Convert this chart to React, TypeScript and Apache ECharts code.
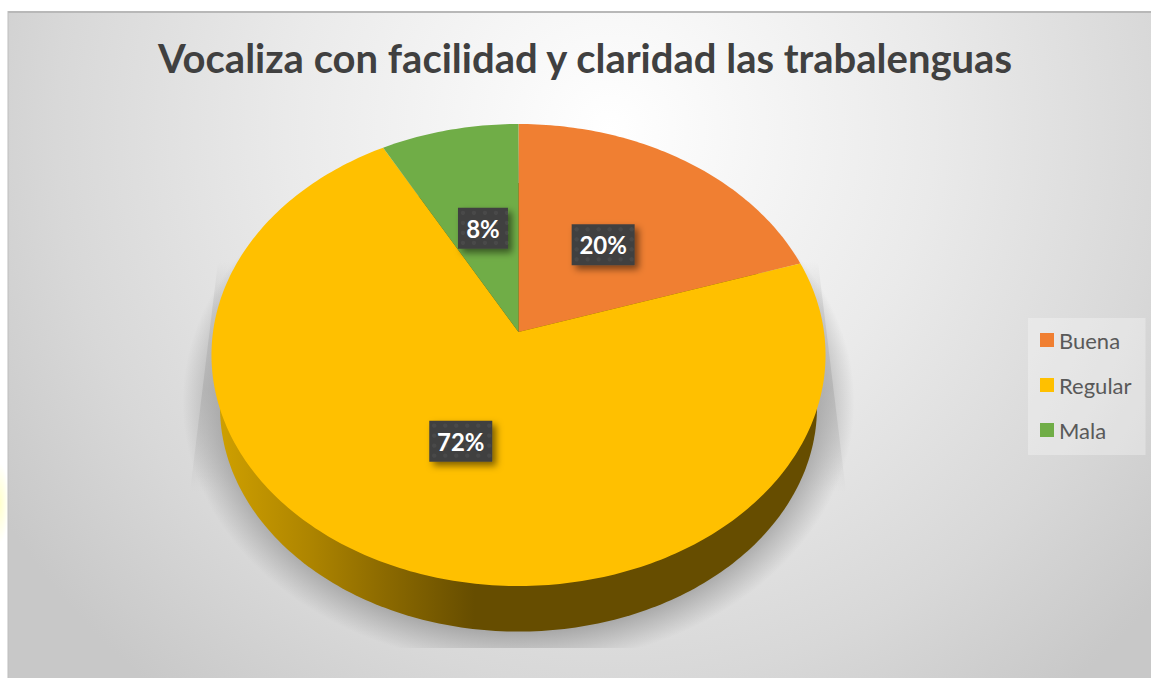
import React, { useEffect, useRef } from "react";
import * as echarts from "echarts";

const titleText = "Vocaliza con facilidad y claridad las trabalenguas";
const categories = ["Buena", "Regular", "Mala"];
const sliceValues = [20, 72, 8];
const sliceColors = ["#F07F32", "#FFC000", "#70AD47"];

const W = 1151;
const H = 678;
const apexX = 518.5;
const apexY = 332;
const radX = 305.5;
const radY = 228.7;
const persp = 0.0996;
const total = sliceValues.reduce((a, b) => a + b, 0);

function project(theta: number, r: number, rx = radX, ry = radY, cy = apexY): number[] {
  const px = Math.sin(theta) * r;
  const py = Math.cos(theta) * r;
  const w = 1 + persp * py;
  return [apexX + (rx * px) / w, cy - (ry * py) / w];
}

function startAngle(i: number): number {
  let s = 0;
  for (let k = 0; k < i; k++) s += sliceValues[k];
  return (s / total) * Math.PI * 2;
}

function slicePoints(i: number): number[][] {
  const a0 = startAngle(i);
  const sweep = (sliceValues[i] / total) * Math.PI * 2;
  const n = Math.max(8, Math.ceil(sweep * 60));
  const pts: number[][] = [[apexX, apexY]];
  for (let j = 0; j <= n; j++) pts.push(project(a0 + (sweep * j) / n, 1));
  return pts;
}

function rimPoints(): number[][] {
  const pts: number[][] = [];
  for (let j = 0; j < 360; j++) pts.push(project((j / 360) * Math.PI * 2, 1, 297, 222, 385));
  return pts;
}

function baseItem() {
  return {
    type: "group",
    children: [
      {
        type: "polygon",
        shape: { points: [[218, 262], [190, 492], [846, 492], [818, 262]] },
        style: {
          fill: {
            type: "linear", x: 0, y: 0, x2: 0, y2: 1,
            colorStops: [
              { offset: 0, color: "rgba(150,150,150,0)" },
              { offset: 0.2, color: "rgba(150,150,150,0.25)" },
              { offset: 0.55, color: "rgba(150,150,150,0.42)" },
              { offset: 1, color: "rgba(150,150,150,0)" },
            ],
          },
        },
      },
      {
        type: "ellipse",
        shape: { cx: apexX, cy: 402, rx: 336, ry: 264 },
        clipPath: { type: "rect", shape: { x: 0, y: 0, width: W, height: 648 } },
        style: {
          fill: {
            type: "radial", x: 0.5, y: 0.5, r: 0.5,
            colorStops: [
              { offset: 0, color: "rgba(168,168,168,1)" },
              { offset: 0.87, color: "rgba(168,168,168,1)" },
              { offset: 1, color: "rgba(168,168,168,0)" },
            ],
          },
        },
      },
      {
        type: "polygon",
        shape: { points: rimPoints() },
        style: {
          fill: {
            type: "linear", global: true, x: 218, y: 0, x2: 520, y2: 0,
            colorStops: [
              { offset: 0, color: "#CFA000" },
              { offset: 0.3, color: "#AE8500" },
              { offset: 0.55, color: "#8C6A00" },
              { offset: 0.85, color: "#664D00" },
              { offset: 1, color: "#664D00" },
            ],
          },
        },
      },
    ],
  };
}

function labelItem(i: number) {
  const mid = startAngle(i) + (sliceValues[i] / total) * Math.PI;
  const [cx, cy] = project(mid, 0.49);
  const text = `${sliceValues[i]}%`;
  const bw = 13 * text.length + 24;
  const bh = 41;
  const x0 = cx - bw / 2;
  const y0 = cy - bh / 2;
  const dots: any[] = [];
  for (let ix = 5; ix < bw; ix += 11) {
    for (let iy = 5; iy < bh; iy += 10) {
      dots.push({
        type: "circle",
        shape: { cx: x0 + ix, cy: y0 + iy, r: 2.2 },
        style: { fill: "rgba(255,255,255,0.05)" },
      });
    }
  }
  return {
    type: "group",
    children: [
      {
        type: "rect",
        shape: { x: x0, y: y0, width: bw, height: bh },
        style: {
          fill: "#404040",
          shadowBlur: 7,
          shadowOffsetX: 4,
          shadowOffsetY: 4,
          shadowColor: "rgba(0,0,0,0.5)",
        },
      },
      ...dots,
      {
        type: "text",
        x: cx,
        y: cy,
        style: {
          text,
          fill: "#FFFFFF",
          font: "700 24px Lato",
          align: "center",
          verticalAlign: "middle",
        },
      },
    ],
  };
}

export default function App() {
  const ref = useRef<HTMLDivElement>(null);
  useEffect(() => {
    const chart = echarts.init(ref.current!, null, { renderer: "svg" });
    chart.setOption({
      animation: false,
      backgroundColor: "#FFFFFF",
      title: {
        text: titleText,
        left: 580,
        top: 33,
        textAlign: "center",
        textStyle: { fontFamily: "Lato", fontWeight: 700, fontSize: 40, color: "#404040" },
      },
      legend: {
        data: categories,
        orient: "vertical",
        left: 1028,
        top: 318,
        icon: "rect",
        itemWidth: 14,
        itemHeight: 14,
        itemGap: 23,
        padding: [11, 14, 14, 12],
        backgroundColor: "rgba(255,255,255,0.3)",
        selectedMode: false,
        textStyle: { fontFamily: "Lato", fontSize: 22, color: "#595959" },
      },
      graphic: [
        {
          type: "ellipse",
          z: 0,
          silent: true,
          shape: { cx: 0, cy: 503, rx: 9, ry: 40 },
          style: {
            fill: {
              type: "radial", x: 0.5, y: 0.5, r: 0.5,
              colorStops: [
                { offset: 0, color: "#FFFFCC" },
                { offset: 1, color: "#FFFFFF" },
              ],
            },
          },
        },
        {
          type: "rect",
          z: 1,
          silent: true,
          shape: { x: 8, y: 12, width: W - 8, height: H - 12 },
          style: {
            fill: {
              type: "radial", global: true, x: 610, y: 130, r: 720,
              colorStops: [
                { offset: 0, color: "#FFFFFF" },
                { offset: 0.45, color: "#EAEAEA" },
                { offset: 0.77, color: "#D8D8D8" },
                { offset: 1, color: "#C8C8C8" },
              ],
            },
          },
        },
        { type: "rect", z: 1, silent: true, shape: { x: 8, y: 11, width: W - 8, height: 2 }, style: { fill: "#B8B8B8" } },
        { type: "rect", z: 1, silent: true, shape: { x: 7.5, y: 11, width: 1, height: H - 11 }, style: { fill: "#BDBDBD" } },
      ],
      series: [
        {
          type: "custom",
          name: "base",
          coordinateSystem: "none",
          silent: true,
          z: 2,
          data: [sliceValues[1]],
          renderItem: () => baseItem(),
        },
        ...categories.map((name, i) => ({
          type: "custom",
          name,
          coordinateSystem: "none",
          silent: true,
          z: 3,
          itemStyle: { color: sliceColors[i] },
          data: [sliceValues[i]],
          renderItem: () => ({
            type: "polygon",
            shape: { points: slicePoints(i) },
            style: { fill: sliceColors[i] },
          }),
        })),
        {
          type: "custom",
          name: "labels",
          coordinateSystem: "none",
          silent: true,
          z: 4,
          data: sliceValues,
          renderItem: (p: any) => labelItem(p.dataIndex),
        },
      ],
    });
    return () => chart.dispose();
  }, []);
  return <div ref={ref} style={{ position: "fixed", left: 0, top: 0, width: W, height: H }} />;
}
